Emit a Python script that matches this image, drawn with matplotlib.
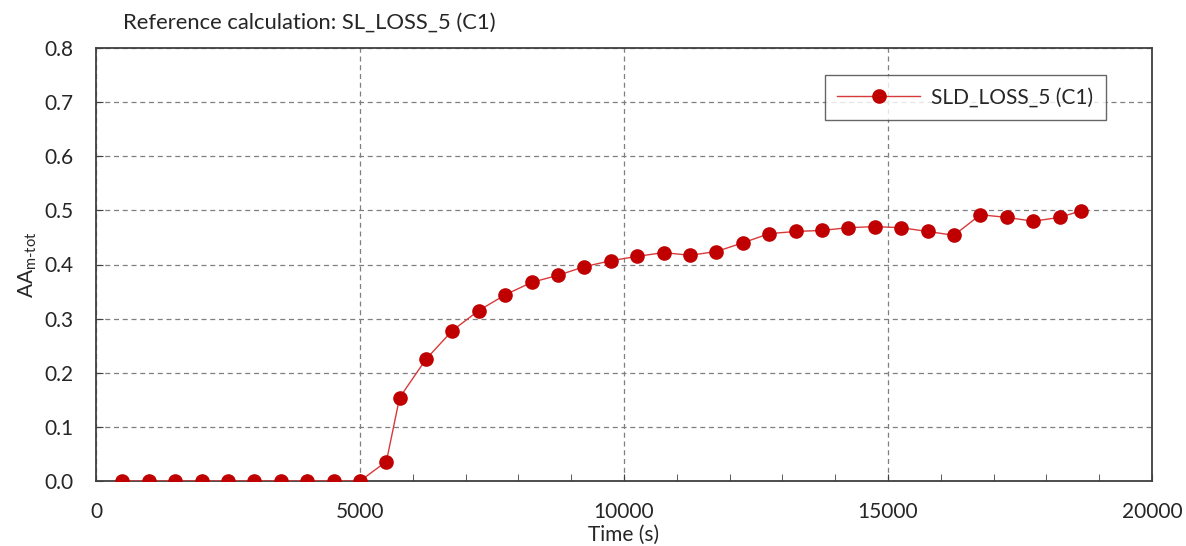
import matplotlib
matplotlib.use("Agg")
import matplotlib.pyplot as plt
from matplotlib.ticker import MultipleLocator, FormatStrFormatter

# Time steps (s) and total AA values for the SLD_LOSS_5 (C1) run
time_s = [500, 1000, 1500, 2000, 2500, 3000, 3500, 4000, 4500, 5000,
          5500, 5750, 6250, 6750, 7250, 7750, 8250, 8750, 9250, 9750,
          10250, 10750, 11250, 11750, 12250, 12750, 13250, 13750, 14250, 14750,
          15250, 15750, 16250, 16750, 17250, 17750, 18250, 18650]
aa_tot = [0.0, 0.0, 0.0, 0.0, 0.0, 0.0, 0.0, 0.0, 0.0, 0.0,
          0.036, 0.154, 0.225, 0.278, 0.315, 0.344, 0.367, 0.380, 0.396, 0.407,
          0.415, 0.422, 0.417, 0.424, 0.440, 0.457, 0.461, 0.463, 0.468, 0.470,
          0.468, 0.461, 0.454, 0.492, 0.487, 0.480, 0.487, 0.499]

series_label = "SLD_LOSS_5 (C1)"
title_text = "Reference calculation: SL_LOSS_5 (C1)"

plt.rcParams["font.family"] = ["Lato", "DejaVu Sans"]
plt.rcParams["mathtext.fontset"] = "custom"
plt.rcParams["mathtext.rm"] = "Lato"
plt.rcParams["mathtext.it"] = "Lato"
text_color = "#262626"
fs = 15

fig = plt.figure(figsize=(11.86, 5.46), dpi=100)
ax = fig.add_axes([96 / 1186, 65 / 546, 1056 / 1186, 433 / 546])

ax.plot(time_s, aa_tot, color="#D83A3A", linewidth=1.0, marker="o",
        markersize=9.5, markerfacecolor="#C00000", markeredgecolor="#C00000",
        label=series_label, zorder=3)

ax.set_xlim(0, 20000)
ax.set_ylim(0, 0.8)
ax.xaxis.set_major_locator(MultipleLocator(5000))
ax.xaxis.set_minor_locator(MultipleLocator(1000))
ax.yaxis.set_major_locator(MultipleLocator(0.1))
ax.yaxis.set_major_formatter(FormatStrFormatter("%.1f"))

ax.grid(True, which="major", color="#7F7F7F", linestyle=(0, (4, 3)), linewidth=0.9)
ax.set_axisbelow(True)

for s in ax.spines.values():
    s.set_color("#404040")
    s.set_linewidth(1.3)

ax.tick_params(axis="both", which="major", direction="in", length=5,
               color="#404040", labelsize=fs, labelcolor=text_color)
ax.tick_params(axis="x", which="major", pad=15)
ax.tick_params(axis="y", which="major", pad=16)
ax.tick_params(axis="x", which="minor", direction="in", length=5, color="#404040")

ax.set_xlabel("Time (s)", fontsize=fs, color=text_color, labelpad=2)
ax.set_ylabel(r"AA$_{\mathrm{m\text{-}tot}}$", fontsize=fs, color=text_color, labelpad=4)

fig.text(123 / 1186, 1 - 23 / 546, title_text, ha="left", va="center",
         fontsize=15.8, color=text_color)

leg = ax.legend(loc="upper left", bbox_to_anchor=(0.690, 0.9376), fontsize=fs,
                frameon=True, fancybox=False, handlelength=4.0, borderpad=0.6,
                handletextpad=0.5, borderaxespad=0)
leg.get_frame().set_edgecolor("#404040")
leg.get_frame().set_linewidth(1.0)
for t in leg.get_texts():
    t.set_color(text_color)

fig.savefig("out.png", dpi=100)
